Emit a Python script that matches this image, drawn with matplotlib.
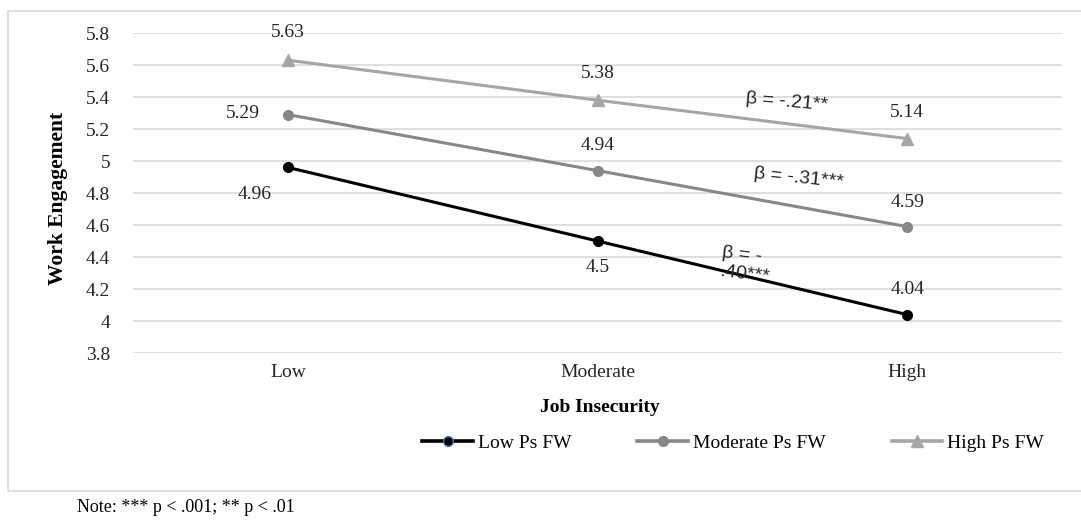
import matplotlib
matplotlib.use("Agg")
import matplotlib.pyplot as plt
from matplotlib.lines import Line2D
from matplotlib.patches import Rectangle

# data
categories = ["Low", "Moderate", "High"]
low_psfw = [4.96, 4.5, 4.04]
moderate_psfw = [5.29, 4.94, 4.59]
high_psfw = [5.63, 5.38, 5.14]
series_names = ["Low Ps FW", "Moderate Ps FW", "High Ps FW"]
betas = ["β = -.21**", "β = -.31***", "β = -\n.40***"]
y_ticks = [3.8, 4, 4.2, 4.4, 4.6, 4.8, 5, 5.2, 5.4, 5.6, 5.8]

# label offsets in pixels (dx, dy) for each point
low_offsets = [(-33, -27), (0, -26), (0, 25)]
mod_offsets = [(-45, 1), (0, 25), (0, 24)]
high_offsets = [(0, 28), (0, 27), (0, 26)]

plt.rcParams["font.family"] = ["Liberation Serif", "DejaVu Serif"]
FS = 14
TXT = "#262626"

fig = plt.figure(figsize=(10.81, 5.20), dpi=100)
W, H = 1081, 520
ax = fig.add_axes([133 / W, 1 - 353 / H, (1062 - 133) / W, 320 / H])

x = list(range(len(categories)))
styles = [
    (low_psfw, "#000000", "o", 7, low_offsets),
    (moderate_psfw, "#878787", "o", 7, mod_offsets),
    (high_psfw, "#a6a6a6", "^", 9, high_offsets),
]
handles = []
for (vals, color, marker, ms, offs), name in zip(styles, series_names):
    ax.plot(x, vals, color=color, lw=2.2, marker=marker, ms=ms, zorder=3)
    # legend proxy (the low series marker has a blue rim in the original)
    mec = "#4472c4" if name == "Low Ps FW" else color
    handles.append(Line2D([], [], color=color, lw=2.6, marker=marker,
                          ms=ms, mec=mec, mew=1, label=name))
    for xi, v, (dx, dy) in zip(x, vals, offs):
        ax.annotate(f"{v:g}", (xi, v), xytext=(dx, dy),
                    textcoords="offset pixels", ha="center", va="center",
                    fontsize=FS, color=TXT)

# beta annotations
beta_pos = [(1.61, 5.369, -5), (1.648, 4.894, -6), (1.48, 4.35, -7)]
for txt, (bx, by, rot) in zip(betas, beta_pos):
    ax.text(bx, by, txt, family="Liberation Sans", fontsize=FS,
            rotation=rot, ha="center", va="center", color=TXT,
            linespacing=1.2, multialignment="left", rotation_mode="anchor")

ax.set_xlim(-0.5, 2.5)
ax.set_ylim(3.8, 5.8)
ax.set_yticks(y_ticks)
ax.set_yticklabels([f"{t:g}" for t in y_ticks])
ax.set_xticks(x)
ax.set_xticklabels(categories)
ax.tick_params(length=0, labelsize=FS, labelcolor=TXT)
ax.tick_params(axis="x", pad=8)
ax.tick_params(axis="y", pad=16.5)
ax.grid(axis="y", color="#d9d9d9", lw=1.2)
ax.set_axisbelow(True)
for s in ax.spines.values():
    s.set_visible(False)

fig.text(57.5 / W, 1 - 198 / H, "Work Engagement", rotation=90, ha="center",
         va="center", fontsize=15.5, fontweight="bold")
fig.text(600 / W, 1 - 408 / H, "Job Insecurity", ha="center", va="center",
         fontsize=FS, fontweight="bold")

fig.legend(handles=handles, loc="center", bbox_to_anchor=(733 / W, 1 - 443 / H),
           ncol=3, frameon=False, fontsize=FS, handlelength=2.6,
           handletextpad=0.25, columnspacing=3.4, borderpad=0,
           borderaxespad=0)

fig.patches.append(Rectangle((8 / W, 1 - 491 / H), (1090 - 8) / W, (491 - 11) / H,
                             transform=fig.transFigure, fill=False,
                             edgecolor="#d9d9d9", lw=1.2))
fig.text(77 / W, 1 - 507 / H, "Note: *** p < .001; ** p < .01", ha="left",
         va="center", fontsize=13)

fig.savefig("out.png", dpi=100)
